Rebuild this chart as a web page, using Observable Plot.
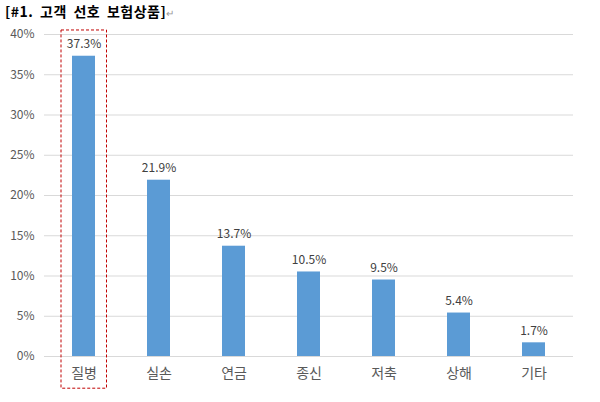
<!DOCTYPE html>
<html><head><meta charset="utf-8">
<script src="https://cdn.jsdelivr.net/npm/d3@7"></script>
<script src="https://cdn.jsdelivr.net/npm/@observablehq/plot@0.6"></script>
<style>
body{margin:0;background:#fff;font-family:"Noto Sans CJK KR",sans-serif;}
#wrap{position:relative;width:600px;height:402px;}
#title{position:absolute;left:5px;top:1px;font-size:14px;font-weight:bold;color:#000;letter-spacing:0.5px;word-spacing:3px;}
#title span{font-weight:normal;color:#999;font-size:10px;}
</style></head>
<body>
<div id="wrap"><div id="title">[#1. 고객 선호 보험상품]<span>↵</span></div><div id="chart"></div></div>
<script>
const categories = ["질병","실손","연금","종신","저축","상해","기타"];
const values = [37.3, 21.9, 13.7, 10.5, 9.5, 5.4, 1.7];
const yTicks = [0,5,10,15,20,25,30,35,40];
const highlight = ["질병"];

const data = categories.map((c,i)=>({cat:c, v:values[i]}));

const chart = Plot.plot({
  width: 600, height: 402,
  marginLeft: 44, marginRight: 27, marginTop: 34, marginBottom: 46,
  style: {fontFamily: '"Noto Sans CJK KR", sans-serif', background: "transparent"},
  x: {domain: categories, paddingInner: 0.69, paddingOuter: 0.345, label: null},
  y: {domain: [0, 40], label: null},
  marks: [
    Plot.ruleY(yTicks, {stroke: "#d9d9d9", strokeWidth: 1}),
    Plot.barY(data, {x: "cat", y: "v", fill: "#5b9bd5"}),
    Plot.text(data, {x: "cat", y: "v", text: d => d.v.toFixed(1) + "%", dy: -12, fontSize: 12, fill: "#404040"}),
    Plot.barY(highlight, {x: d => d, y1: 40.5, y2: -4.0, fill: "none", stroke: "#c00000", strokeDasharray: "3,2", strokeWidth: 1, insetLeft: -11, insetRight: -11.5}),
    Plot.axisY(yTicks, {tickSize: 0, tickPadding: 10, tickFormat: d => d + "%", fontSize: 12, fill: "#595959"}),
    Plot.axisX({tickSize: 0, tickPadding: 12, fontSize: 14, fill: "#595959"})
  ]
});
document.getElementById("chart").appendChild(chart);
</script>
</body></html>
